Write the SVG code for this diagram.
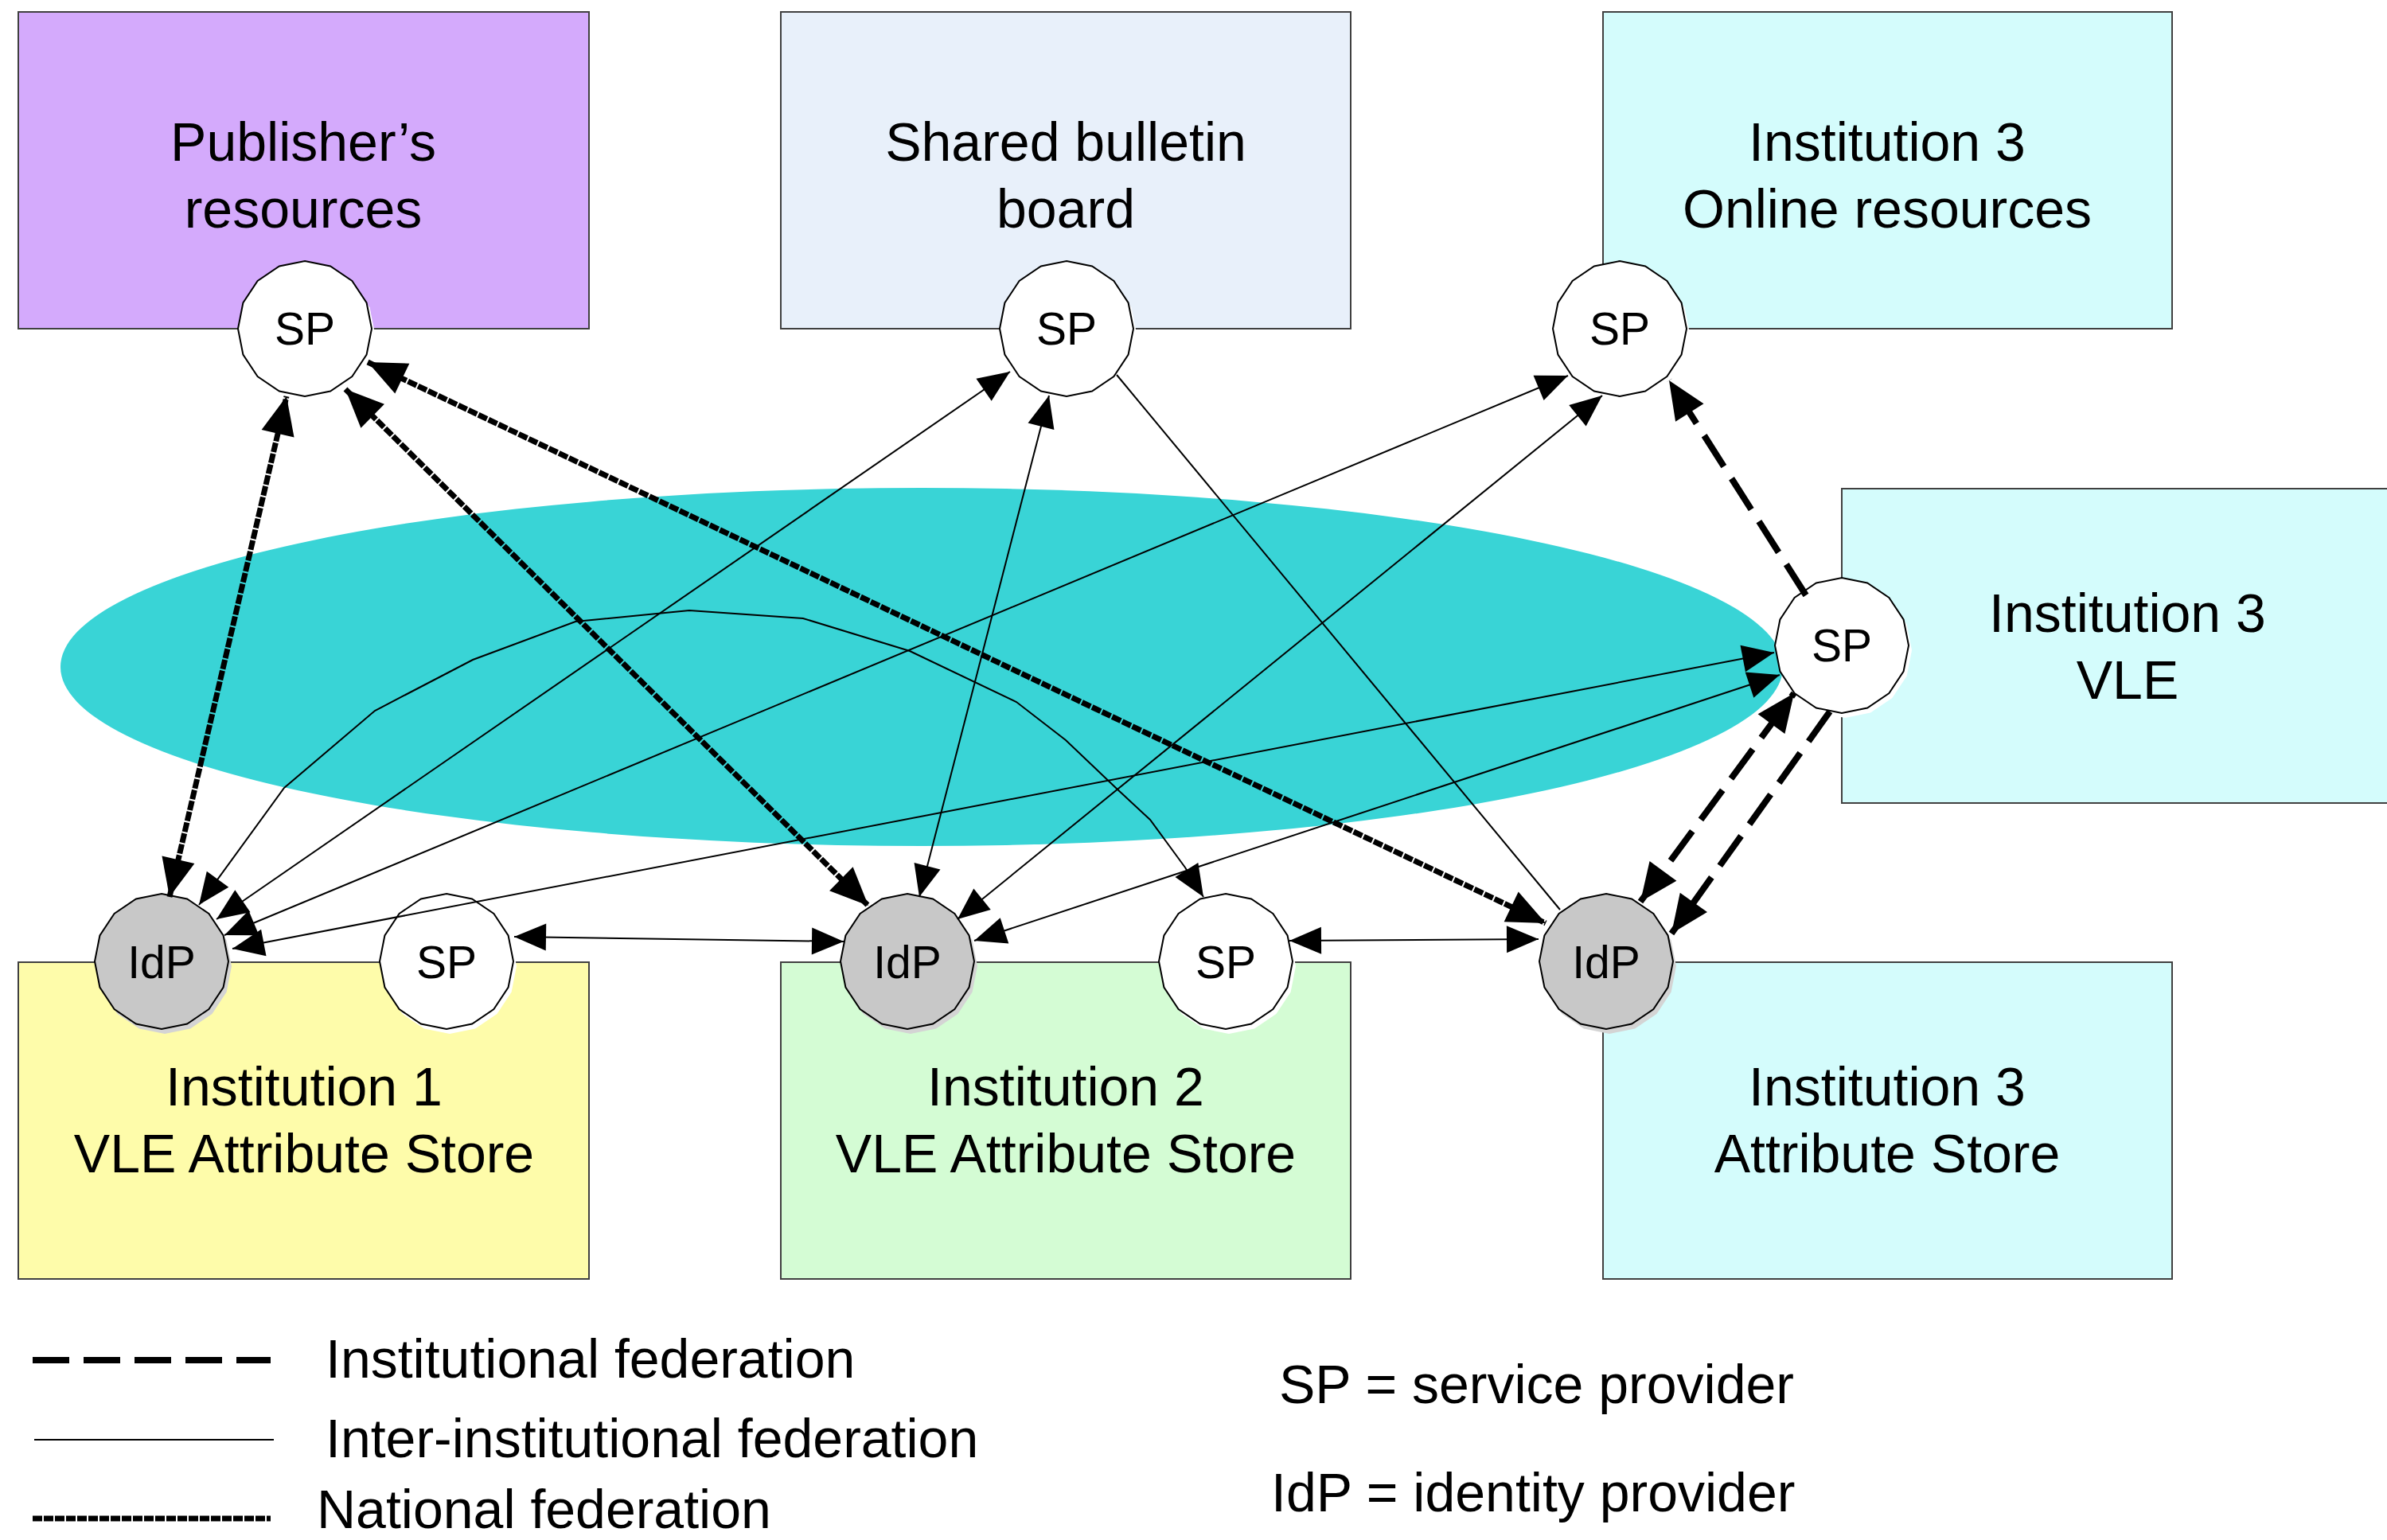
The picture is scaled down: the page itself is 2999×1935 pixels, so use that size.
<svg xmlns="http://www.w3.org/2000/svg" xmlns:xlink="http://www.w3.org/1999/xlink" width="2999" height="1935" viewBox="0 0 2999 1935">
<style>
.box{stroke:#404040;stroke-width:2}
.lbl{font-family:"Liberation Sans",Arial,sans-serif;font-size:68px;fill:#000;text-anchor:middle}
.leg{font-family:"Liberation Sans",Arial,sans-serif;font-size:68px;fill:#000}
.ntxt{font-family:"Liberation Sans",Arial,sans-serif;font-size:57px;fill:#000;text-anchor:middle}
.sp{fill:#fff;stroke:#000;stroke-width:2}
.idp{fill:#c8c8c8;stroke:#000;stroke-width:2}
.shadow-sp{fill:#fff}
.shadow-idp{fill:#d4d4d4}
.thin{fill:none;stroke:#000;stroke-width:2}
.inst{fill:none;stroke:#000;stroke-width:8;stroke-dasharray:46 18}
.nat{fill:none;stroke:#000;stroke-width:7;stroke-dasharray:12 2}
</style>
<defs>
<polygon id="poly" points="0,-85 32.1,-78.5 59.4,-60.1 77.6,-32.5 84,0 77.6,32.5 59.4,60.1 32.1,78.5 0,85 -32.1,78.5 -59.4,60.1 -77.6,32.5 -84,0 -77.6,-32.5 -59.4,-60.1 -32.1,-78.5"/>
<marker id="aT" markerUnits="userSpaceOnUse" markerWidth="40" markerHeight="34" refX="40" refY="17" orient="auto-start-reverse" overflow="visible"><path d="M0,0 L40,17 L0,34 z" fill="#000"/></marker>
<marker id="aK" markerUnits="userSpaceOnUse" markerWidth="48" markerHeight="42" refX="48" refY="21" orient="auto-start-reverse" overflow="visible"><path d="M0,0 L48,21 L0,42 z" fill="#000"/></marker>
</defs>
<rect width="2999" height="1935" fill="#fff"/>

<g id="box-publisher"><rect class="box" x="23" y="15" width="717" height="398" fill="#d4aafc"/><text class="lbl" x="381" y="202">Publisher’s</text><text class="lbl" x="381" y="286">resources</text></g>
<g id="box-bulletin"><rect class="box" x="981" y="15" width="716" height="398" fill="#e8f0fa"/><text class="lbl" x="1339" y="202">Shared bulletin</text><text class="lbl" x="1339" y="286">board</text></g>
<g id="box-inst3-online"><rect class="box" x="2014" y="15" width="715" height="398" fill="#d4fcfc"/><text class="lbl" x="2371" y="202">Institution 3</text><text class="lbl" x="2371" y="286">Online resources</text></g>
<g id="box-inst3-vle"><rect class="box" x="2314" y="614" width="720" height="395" fill="#d4fcfc"/><text class="lbl" x="2673" y="794">Institution 3</text><text class="lbl" x="2673" y="878">VLE</text></g>
<g id="box-inst1"><rect class="box" x="23" y="1209" width="717" height="398" fill="#fefcaa"/><text class="lbl" x="382" y="1389">Institution 1</text><text class="lbl" x="382" y="1473">VLE Attribute Store</text></g>
<g id="box-inst2"><rect class="box" x="981" y="1209" width="716" height="398" fill="#d4fcd4"/><text class="lbl" x="1339" y="1389">Institution 2</text><text class="lbl" x="1339" y="1473">VLE Attribute Store</text></g>
<g id="box-inst3-attr"><rect class="box" x="2014" y="1209" width="715" height="398" fill="#d4fcfc"/><text class="lbl" x="2371" y="1389">Institution 3</text><text class="lbl" x="2371" y="1473">Attribute Store</text></g>

<g id="federation-ellipse"><ellipse cx="1158" cy="838" rx="1082" ry="225" fill="#39d4d6"/></g>

<g id="node-sp-pub"><use href="#poly" class="shadow-sp" transform="translate(387,419)"/><use href="#poly" class="sp" transform="translate(383,413)"/><text class="ntxt" x="383" y="433">SP</text></g>
<g id="node-sp-bulletin"><use href="#poly" class="shadow-sp" transform="translate(1344,419)"/><use href="#poly" class="sp" transform="translate(1340,413)"/><text class="ntxt" x="1340" y="433">SP</text></g>
<g id="node-sp-online"><use href="#poly" class="shadow-sp" transform="translate(2039,419)"/><use href="#poly" class="sp" transform="translate(2035,413)"/><text class="ntxt" x="2035" y="433">SP</text></g>
<g id="node-sp-vle"><use href="#poly" class="shadow-sp" transform="translate(2318,817)"/><use href="#poly" class="sp" transform="translate(2314,811)"/><text class="ntxt" x="2314" y="831">SP</text></g>
<g id="node-idp1"><use href="#poly" class="shadow-idp" transform="translate(207,1214)"/><use href="#poly" class="idp" transform="translate(203,1208)"/><text class="ntxt" x="203" y="1229">IdP</text></g>
<g id="node-sp-inst1"><use href="#poly" class="shadow-sp" transform="translate(565,1214)"/><use href="#poly" class="sp" transform="translate(561,1208)"/><text class="ntxt" x="561" y="1229">SP</text></g>
<g id="node-idp2"><use href="#poly" class="shadow-idp" transform="translate(1144,1214)"/><use href="#poly" class="idp" transform="translate(1140,1208)"/><text class="ntxt" x="1140" y="1229">IdP</text></g>
<g id="node-sp-inst2"><use href="#poly" class="shadow-sp" transform="translate(1544,1214)"/><use href="#poly" class="sp" transform="translate(1540,1208)"/><text class="ntxt" x="1540" y="1229">SP</text></g>
<g id="node-idp3"><use href="#poly" class="shadow-idp" transform="translate(2022,1214)"/><use href="#poly" class="idp" transform="translate(2018,1208)"/><text class="ntxt" x="2018" y="1229">IdP</text></g>

<g id="connectors">
<path class="nat" d="M213,1127 L360,498" marker-start="url(#aK)" marker-end="url(#aK)"/>
<path class="nat" d="M434,489 L1091,1138" marker-start="url(#aK)" marker-end="url(#aK)"/>
<path class="nat" d="M462,455 L1942,1160" marker-start="url(#aK)" marker-end="url(#aK)"/>
<path class="inst" d="M2269,748 L2097,478" marker-end="url(#aK)"/>
<path class="inst" d="M2061,1133 L2254,871" marker-start="url(#aK)" marker-end="url(#aK)"/>
<path class="inst" d="M2299,894 L2100,1173" marker-end="url(#aK)"/>
<path class="thin" d="M272,1155 L1269,467" marker-start="url(#aT)" marker-end="url(#aT)"/>
<path class="thin" d="M282,1175 L1970,472" marker-start="url(#aT)" marker-end="url(#aT)"/>
<path class="thin" d="M292,1192 L2229,820" marker-start="url(#aT)" marker-end="url(#aT)"/>
<path class="thin" d="M1155,1127 L1318,497" marker-start="url(#aT)" marker-end="url(#aT)"/>
<path class="thin" d="M1203,1155 L2013,497" marker-start="url(#aT)" marker-end="url(#aT)"/>
<path class="thin" d="M1224,1182 L2236,848" marker-start="url(#aT)" marker-end="url(#aT)"/>
<path class="thin" d="M1403,471 L1960,1143"/>
<path class="thin" d="M646,1177 L1060,1183" marker-start="url(#aT)" marker-end="url(#aT)"/>
<path class="thin" d="M1620,1182 L1933,1180" marker-start="url(#aT)" marker-end="url(#aT)"/>
<path class="thin" d="M250,1137 L357,990 L471,893 L594,829 L723,781 L866,767 L1009,777 L1143,818 L1277,882 L1339,930 L1402,990 L1445,1030 L1489,1090 L1512,1127" marker-start="url(#aT)" marker-end="url(#aT)"/>
</g>

<g id="legend">
<line class="inst" x1="41" y1="1709" x2="340" y2="1709"/>
<text class="leg" x="409" y="1731">Institutional federation</text>
<line class="thin" x1="43" y1="1809" x2="344" y2="1809"/>
<text class="leg" x="409" y="1831">Inter-institutional federation</text>
<line class="nat" x1="41" y1="1908" x2="340" y2="1908"/>
<text class="leg" x="398" y="1920">National federation</text>
<text class="leg" x="1607" y="1763">SP = service provider</text>
<text class="leg" x="1597" y="1899">IdP = identity provider</text>
</g>
</svg>
